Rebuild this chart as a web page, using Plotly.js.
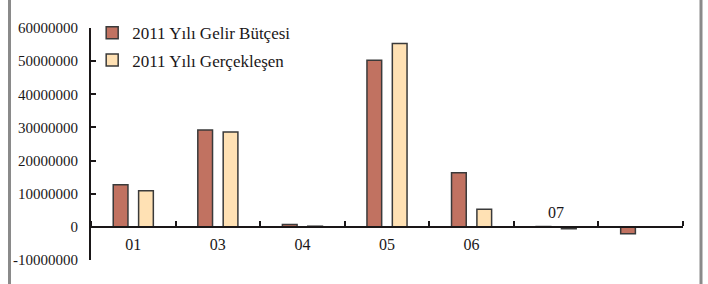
<!DOCTYPE html>
<html>
<head>
<meta charset="utf-8">
<script src="https://cdn.plot.ly/plotly-3.0.1.min.js"></script>
<style>html,body{margin:0;padding:0;background:#fff;}#chart{width:708px;height:284px;}</style>
</head>
<body>
<div id="chart"></div>
<script>
// Data
const categories = ['01', '03', '04', '05', '06', '07', ''];
const belowLabels = ['01', '03', '04', '05', '06'];
const aboveLabel = '07';
const seriesNames = ['2011 Yılı Gelir Bütçesi', '2011 Yılı Gerçekleşen'];
const gelirButcesi = [12700000, 29200000, 700000, 50300000, 16300000, 100000, -2100000];
const gerceklesen = [10900000, 28600000, 200000, 55300000, 5300000, -600000, 0];
const yTickValues = [-10000000, 0, 10000000, 20000000, 30000000, 40000000, 50000000, 60000000];

const W = 708, H = 284;
const M = {l: 91, r: 25, t: 28, b: 24};
const pw = W - M.l - M.r, ph = H - M.t - M.b;
const yRange = [yTickValues[0], yTickValues[yTickValues.length - 1]];
const xIdx = categories.map((c, i) => i);
const axisColor = '#1a1718';
const fontFam = '"Liberation Serif", "DejaVu Serif", serif';

const traces = [
  {type: 'bar', name: seriesNames[0], x: xIdx, y: gelirButcesi, legendgroup: 'a',
   marker: {color: '#c17261', line: {color: '#3a3a3a', width: 1.5}}},
  {type: 'bar', name: seriesNames[1], x: xIdx, y: gerceklesen, legendgroup: 'b',
   marker: {color: '#ffe1b4', line: {color: '#3a3a3a', width: 1.5}}}
];

const zeroPos = (0 - yRange[0]) / (yRange[1] - yRange[0]);

const layout = {
  width: W, height: H,
  margin: M,
  paper_bgcolor: '#ffffff', plot_bgcolor: '#ffffff',
  font: {family: fontFam, size: 14, color: axisColor},
  barmode: 'group', bargap: 0.4, bargroupgap: 0.42,
  showlegend: true,
  legend: {x: 0.002, y: 1.055, xanchor: 'left', yanchor: 'top', bgcolor: 'rgba(0,0,0,0)',
           font: {family: fontFam, size: 17, color: axisColor},
           traceorder: 'grouped', tracegroupgap: 2},
  xaxis: {
    range: [-0.5, categories.length - 0.5],
    anchor: 'free', position: zeroPos,
    showline: true, linecolor: axisColor, linewidth: 2,
    showgrid: false, zeroline: false,
    tickmode: 'array', tickvals: belowLabels.map((c, i) => i), ticktext: belowLabels,
    ticks: '', ticklabelstandoff: 3,
    tickfont: {family: fontFam, size: 16, color: axisColor},
    minor: {tickmode: 'linear', tick0: 0.5, dtick: 1, ticks: 'inside', ticklen: 5, tickwidth: 2, tickcolor: axisColor, showgrid: false},
    fixedrange: true
  },
  yaxis: {
    range: yRange,
    showline: true, linecolor: axisColor, linewidth: 2,
    showgrid: false, zeroline: false,
    tickmode: 'array', tickvals: yTickValues, ticktext: yTickValues.map(v => String(v)),
    ticks: 'inside', ticklen: 5, tickwidth: 2, tickcolor: axisColor,
    ticklabelstandoff: 8,
    tickfont: {family: fontFam, size: 15, color: axisColor},
    fixedrange: true
  },
  annotations: [
    {x: categories.indexOf(aboveLabel), y: 0, xref: 'x', yref: 'y', text: aboveLabel,
     showarrow: false, yanchor: 'bottom', yshift: 4,
     font: {family: fontFam, size: 16, color: axisColor}}
  ],
  shapes: [
    {type: 'line', xref: 'paper', yref: 'paper', x0: (9.5 - M.l) / pw, x1: (9.5 - M.l) / pw,
     y0: -M.b / ph, y1: 1 + M.t / ph, line: {color: '#8a8a8a', width: 3}},
    {type: 'line', xref: 'paper', yref: 'paper', x0: (701 - M.l) / pw, x1: (701 - M.l) / pw,
     y0: -M.b / ph, y1: 1 + M.t / ph, line: {color: '#8a8a8a', width: 3}}
  ]
};

Plotly.newPlot('chart', traces, layout, {displayModeBar: false, staticPlot: true});
</script>
</body>
</html>
